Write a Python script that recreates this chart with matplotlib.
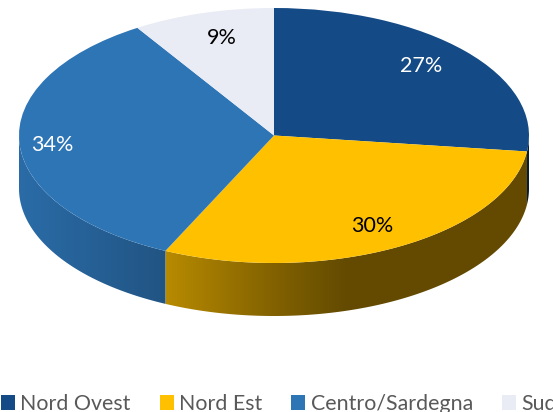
import numpy as np
import matplotlib
matplotlib.use('Agg')
import matplotlib.pyplot as plt
from matplotlib.colors import to_rgb
from matplotlib.patches import Patch, Polygon

categories = ['Nord Ovest', 'Nord Est', 'Centro/Sardegna', 'Sud']
values = [27, 30, 34, 9]
colors = ['#144b86', '#ffc000', '#2e75b6', '#e9ebf5']
label_colors = ['white', 'black', 'white', 'black']

# label centres in image pixels
label_px = [(421, 66), (372, 226), (52, 145), (222, 38)]

W, H = 553, 412
CX, CY, RX, RY = 274.0, 135.5, 255.0, 127.5
DEPTH = 53 / RY

# wall shading, as a factor of the top colour along the horizontal position
shade_x = [-1.0, -0.424, 0.02, 0.28, 1.0]
shade_f = [0.92, 0.72, 0.50, 0.39, 0.39]


def to_data(px, py):
    return (px - CX) / RX, (CY - py) / RY


fig = plt.figure(figsize=(W / 100, H / 100), dpi=100)
ax = fig.add_axes([0, 0, 1, 1])

# side wall: a horizontal gradient clipped to the visible part of each slice
edges = np.cumsum([0] + values) / sum(values) * 2 * np.pi
grid = np.linspace(-1, 1, 512)
shade = np.interp(grid, shade_x, shade_f)
for i, col in enumerate(colors):
    t = np.linspace(edges[i], edges[i + 1], 200)
    t = t[np.cos(t) <= 0.0]
    if len(t) < 2:
        continue
    top = np.column_stack([np.sin(t), np.cos(t)])
    bottom = top[::-1] - [0, DEPTH]
    poly = Polygon(np.vstack([top, bottom]), closed=True, transform=ax.transData,
                   facecolor='none', edgecolor='none')
    ax.add_patch(poly)
    img = shade[None, :, None] * np.array(to_rgb(col))[None, None, :]
    im = ax.imshow(img, extent=[-1, 1, -2, 2], aspect='auto', zorder=1,
                   interpolation='bilinear')
    im.set_clip_path(poly)

ax.pie(values, colors=colors, startangle=90, counterclock=False, radius=1,
       wedgeprops={'zorder': 2, 'linewidth': 0})

ax.set_aspect('auto')
ax.set_xlim(to_data(0, 0)[0], to_data(W, 0)[0])
ax.set_ylim(to_data(0, H)[1], to_data(0, 0)[1])
ax.axis('off')

for v, (px, py), c in zip(values, label_px, label_colors):
    x, y = to_data(px, py)
    ax.text(x, y, f'{v}%', color=c, ha='center', va='center', fontsize=15.5,
            family='Lato', zorder=3)

handles = [Patch(facecolor=c, edgecolor='none') for c in colors]
fig.legend(handles, categories, ncol=4, loc='lower left',
           bbox_to_anchor=(1 / W, -2 / H), frameon=False,
           prop={'family': 'Lato', 'size': 15.4}, labelcolor='#595959',
           handlelength=0.66, handleheight=0.66, handletextpad=0.25,
           columnspacing=1.35, borderaxespad=0, borderpad=0)

fig.savefig('out.png', dpi=100)
